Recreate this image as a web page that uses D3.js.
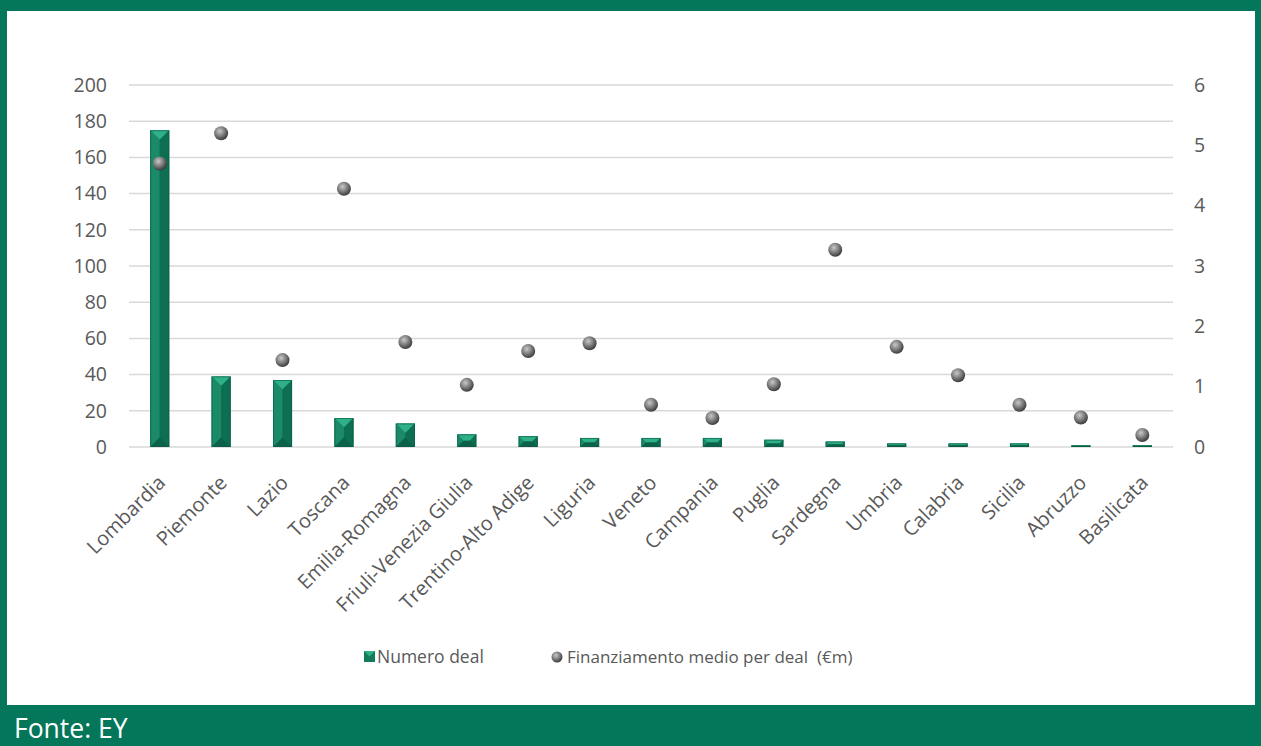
<!DOCTYPE html>
<html>
<head>
<meta charset="utf-8">
<script src="https://cdn.jsdelivr.net/npm/d3@7"></script>
<style>
  html, body { margin: 0; padding: 0; background: #fff; }
  svg { display: block; }
</style>
</head>
<body>
<svg id="chart" width="1261" height="746"></svg>
<script>
// Regions and their figures
const regions = ["Lombardia","Piemonte","Lazio","Toscana","Emilia-Romagna","Friuli-Venezia Giulia",
  "Trentino-Alto Adige","Liguria","Veneto","Campania","Puglia","Sardegna","Umbria","Calabria",
  "Sicilia","Abruzzo","Basilicata"];
const numeroDeal = [175, 39, 37, 16, 13, 7, 6, 5, 5, 5, 4, 3, 2, 2, 2, 1, 1];
const finanziamentoMedio = [4.7, 5.2, 1.44, 4.28, 1.74, 1.03, 1.59, 1.72, 0.7, 0.48, 1.04, 3.27, 1.66, 1.19, 0.7, 0.49, 0.2];
const leftTicks = [0, 20, 40, 60, 80, 100, 120, 140, 160, 180, 200];
const rightTicks = [0, 1, 2, 3, 4, 5, 6];

const W = 1261, H = 746;
const frame = "#04765a";
const textColor = "#595959";
const font = "'Open Sans', sans-serif";
const svg = d3.select("#chart");

// Frame: top band, side borders, footer band
svg.append("rect").attr("x", 0).attr("y", 0).attr("width", W).attr("height", H).attr("fill", frame);
svg.append("rect").attr("x", 7).attr("y", 11).attr("width", W - 13).attr("height", 694).attr("fill", "#fff");
svg.append("text").attr("x", 14).attr("y", 738).attr("fill", "#fff")
  .attr("font-size", 26.5).attr("font-family", font).text("Fonte: EY");

const plot = { left: 129, right: 1173, top: 85, bottom: 447 };
const x = d3.scaleBand().domain(regions).range([plot.left, plot.right]).paddingInner(0.69).paddingOuter(0.345);
const yL = d3.scaleLinear().domain([0, 200]).range([plot.bottom, plot.top]);
const yR = d3.scaleLinear().domain([0, 6]).range([plot.bottom, plot.top]);

// Gridlines
svg.append("g").selectAll("line").data(leftTicks).join("line")
  .attr("x1", plot.left).attr("x2", plot.right)
  .attr("y1", d => yL(d)).attr("y2", d => yL(d))
  .attr("stroke", "#d9d9d9").attr("stroke-width", 1.5);

// Left axis
const axL = svg.append("g").attr("transform", `translate(${plot.left - 22},0)`)
  .call(d3.axisLeft(yL).tickValues(leftTicks).tickSize(0).tickPadding(0));
axL.select(".domain").remove();
axL.selectAll("text").attr("font-size", 19.5).attr("fill", textColor).attr("font-family", font);

// Right axis
const axR = svg.append("g").attr("transform", `translate(${plot.right + 21},0)`)
  .call(d3.axisRight(yR).tickValues(rightTicks).tickFormat(d3.format("d")).tickSize(0).tickPadding(0));
axR.select(".domain").remove();
axR.selectAll("text").attr("font-size", 19.5).attr("fill", textColor).attr("font-family", font);

// Category axis labels, rotated
const axX = svg.append("g").attr("transform", `translate(0,${plot.bottom})`)
  .call(d3.axisBottom(x).tickSize(0).tickPadding(0));
axX.select(".domain").remove();
axX.selectAll("text")
  .attr("font-size", 20).attr("fill", textColor).attr("font-family", font)
  .attr("text-anchor", "end").attr("dy", null).attr("y", 0)
  .attr("transform", "translate(7,37) rotate(-45)");

// Bevelled bars
const defs = svg.append("defs");
const gBars = svg.append("g");
const pts = a => a.map(p => p.join(",")).join(" ");
regions.forEach((r, i) => {
  const v = numeroDeal[i];
  const x0 = x(r), w = x.bandwidth();
  const y0 = yL(v), y1 = yL(0), h = y1 - y0;
  const b = Math.min(w / 2, h / 2, 10);
  const g = gBars.append("g");
  g.append("rect").attr("x", x0).attr("y", y0).attr("width", w).attr("height", h).attr("fill", "#117b5c");
  g.append("polygon").attr("points", pts([[x0, y0], [x0 + w, y0], [x0 + w - b, y0 + b], [x0 + b, y0 + b]])).attr("fill", "#2fb088");
  g.append("polygon").attr("points", pts([[x0, y0], [x0 + b, y0 + b], [x0 + b, y1 - b], [x0, y1]])).attr("fill", "#1a8a68");
  g.append("polygon").attr("points", pts([[x0 + w, y0], [x0 + w - b, y0 + b], [x0 + w - b, y1 - b], [x0 + w, y1]])).attr("fill", "#0d6e51");
  g.append("polygon").attr("points", pts([[x0, y1], [x0 + b, y1 - b], [x0 + w - b, y1 - b], [x0 + w, y1]])).attr("fill", "#0b6149");
  g.append("rect").attr("x", x0 + 0.5).attr("y", y0 + 0.5).attr("width", Math.max(w - 1, 0)).attr("height", Math.max(h - 1, 0))
    .attr("fill", "none").attr("stroke", "#0a5c45").attr("stroke-width", 1).attr("stroke-opacity", 0.6);
});

// Sphere gradient for markers
const rg = defs.append("radialGradient").attr("id", "sphere").attr("cx", "40%").attr("cy", "35%").attr("r", "65%");
rg.append("stop").attr("offset", "0%").attr("stop-color", "#c8c8c8");
rg.append("stop").attr("offset", "45%").attr("stop-color", "#8a8a8a");
rg.append("stop").attr("offset", "100%").attr("stop-color", "#3c3c3c");

svg.append("g").selectAll("circle").data(regions).join("circle")
  .attr("cx", d => x(d) + x.bandwidth() / 2)
  .attr("cy", (d, i) => yR(finanziamentoMedio[i]))
  .attr("r", 7)
  .attr("fill", "url(#sphere)");

// Legend
const lg = svg.append("g");
lg.append("rect").attr("x", 364).attr("y", 651).attr("width", 11).attr("height", 11).attr("fill", "#117b5c");
lg.append("polygon").attr("points", "364,651 375,651 369.5,656.5").attr("fill", "#2fb088");
lg.append("text").attr("x", 377).attr("y", 663).attr("font-size", 17.5).attr("font-family", font).attr("fill", textColor).text("Numero deal");
lg.append("circle").attr("cx", 557).attr("cy", 657).attr("r", 5.5).attr("fill", "url(#sphere)");
lg.append("text").attr("x", 567).attr("y", 663).attr("font-size", 17).attr("font-family", font).attr("fill", textColor)
  .attr("xml:space", "preserve").text("Finanziamento medio per deal  (€m)");
</script>
</body>
</html>
